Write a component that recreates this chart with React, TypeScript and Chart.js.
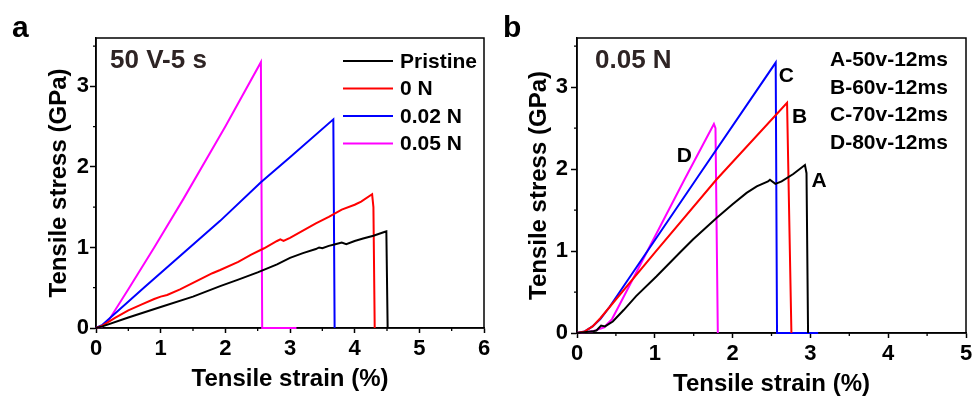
import React, { useEffect, useRef } from 'react';
import { Chart, registerables } from 'chart.js';

Chart.register(...registerables);

const FONT = '"Liberation Sans", Arial, Helvetica, sans-serif';

// ---------------- Panel a data ----------------
const aXTicks = [0, 1, 2, 3, 4, 5, 6];
const aYTicks = [0, 1, 2, 3];
const aSeriesLabels = ['Pristine', '0 N', '0.02 N', '0.05 N'];

const pristineX = [0, 0.1, 0.5, 1.0, 1.5, 1.92, 2.2, 2.5, 2.8, 3.0, 3.2, 3.4, 3.45, 3.5, 3.6, 3.7, 3.8, 3.87, 4.0, 4.13, 4.29, 4.47, 4.49, 4.51];
const pristineY = [0, 0.02, 0.13, 0.26, 0.39, 0.52, 0.6, 0.69, 0.79, 0.87, 0.93, 0.98, 1.0, 0.99, 1.02, 1.04, 1.06, 1.04, 1.08, 1.11, 1.145, 1.195, 1.2, 0];

const n0X = [0, 0.1, 0.3, 0.5, 0.7, 0.9, 1.0, 1.1, 1.3, 1.5, 1.7, 1.8, 1.92, 2.2, 2.4, 2.6, 2.8, 2.85, 2.9, 3.0, 3.2, 3.4, 3.6, 3.8, 4.0, 4.1, 4.27, 4.29, 4.31];
const n0Y = [0, 0.03, 0.13, 0.22, 0.29, 0.36, 0.39, 0.41, 0.48, 0.56, 0.64, 0.68, 0.72, 0.82, 0.91, 0.99, 1.08, 1.1, 1.08, 1.12, 1.21, 1.3, 1.38, 1.47, 1.53, 1.57, 1.66, 1.5, 0];

const n002X = [0, 0.1, 0.74, 1.92, 2.55, 3.0, 3.67, 3.69];
const n002Y = [0, 0.04, 0.5, 1.33, 1.81, 2.12, 2.59, 0];

const n005X = [0, 0.1, 0.2, 0.5, 0.9, 1.35, 2.0, 2.55, 2.57, 3.1];
const n005Y = [0, 0.02, 0.1, 0.48, 1.0, 1.6, 2.5, 3.3, 0, 0];

// ---------------- Panel b data ----------------
const bXTicks = [0, 1, 2, 3, 4, 5];
const bYTicks = [0, 1, 2, 3];
const bLegendLines = ['A-50v-12ms', 'B-60v-12ms', 'C-70v-12ms', 'D-80v-12ms'];
const bCurveLetters = ['A', 'B', 'C', 'D'];

const curveAX = [0, 0.1, 0.2, 0.25, 0.31, 0.36, 0.46, 0.6, 0.76, 1.02, 1.32, 1.49, 1.79, 2.0, 2.18, 2.31, 2.455, 2.48, 2.55, 2.63, 2.78, 2.93, 2.95, 2.97];
const curveAY = [0, 0.01, 0.02, 0.03, 0.09, 0.08, 0.14, 0.28, 0.45, 0.69, 0.98, 1.14, 1.4, 1.57, 1.71, 1.79, 1.85, 1.87, 1.82, 1.85, 1.94, 2.05, 1.95, 0];

const curveBX = [0, 0.1, 0.2, 0.3, 1.0, 1.79, 2.7, 2.756];
const curveBY = [0, 0.02, 0.08, 0.18, 0.98, 1.87, 2.81, 0];

const curveCX = [0, 0.1, 0.2, 0.3, 0.42, 1.556, 2.554, 2.571, 3.1];
const curveCY = [0, 0.02, 0.08, 0.17, 0.32, 1.91, 3.3, 0, 0];

const curveDX = [0, 0.2, 0.35, 0.45, 0.55, 0.85, 1.38, 1.76, 1.78, 1.81];
const curveDY = [0, 0.02, 0.07, 0.17, 0.35, 0.9, 1.87, 2.55, 2.5, 0];

const BLACK = '#000000';
const RED = '#ff0000';
const BLUE = '#0000ff';
const MAGENTA = '#ff00ff';

function pts(xs: number[], ys: number[]) {
  return xs.map((x, i) => ({ x, y: ys[i] }));
}

type Series = { label: string; x: number[]; y: number[]; color: string };

type PanelSpec = {
  series: Series[];
  xMax: number;
  yMax: number;
  xTicks: number[];
  yTicks: number[];
  padTop: number;
  padRight: number;
  yAxisW: number;
  xAxisH: number;
  yTickPad: number;
  yTitlePad: number;
  xTitlePad: number;
  letter: string;
  letterX: number;
  annotation: string;
  annotationX: number;
  drawExtras: (chart: any, ctx: CanvasRenderingContext2D) => void;
};

function makeDecor(p: PanelSpec) {
  return {
    id: 'decor',
    beforeDatasetsDraw(chart: any) {
      const { ctx, chartArea: ca, scales } = chart;
      const xs = scales.x;
      const ys = scales.y;
      ctx.save();
      ctx.strokeStyle = '#000';
      ctx.lineWidth = 1.5;
      ctx.strokeRect(ca.left, ca.top, ca.right - ca.left, ca.bottom - ca.top);
      ctx.lineWidth = 1.3;
      ctx.beginPath();
      for (let v = 0.5; v < xs.max; v += 1) {
        const px = xs.getPixelForValue(v);
        ctx.moveTo(px, ca.bottom);
        ctx.lineTo(px, ca.bottom + 3);
      }
      for (let v = 0.5; v < ys.max; v += 1) {
        const py = ys.getPixelForValue(v);
        ctx.moveTo(ca.left, py);
        ctx.lineTo(ca.left - 3, py);
      }
      ctx.stroke();
      ctx.restore();
    },
    afterDraw(chart: any) {
      const ctx: CanvasRenderingContext2D = chart.ctx;
      ctx.save();
      ctx.textAlign = 'left';
      ctx.textBaseline = 'alphabetic';
      ctx.fillStyle = '#000';
      ctx.font = `bold 30px ${FONT}`;
      ctx.fillText(p.letter, p.letterX, 37);
      ctx.fillStyle = '#2e2424';
      ctx.font = `bold 26px ${FONT}`;
      ctx.fillText(p.annotation, p.annotationX, 68);
      p.drawExtras(chart, ctx);
      ctx.restore();
    },
  };
}

function buildConfig(p: PanelSpec): any {
  const tickFont = { family: FONT, size: 22, weight: 'bold' as const };
  const titleFont = { family: FONT, size: 24, weight: 'bold' as const, lineHeight: 1 };
  return {
    type: 'scatter',
    data: {
      datasets: p.series.map((s) => ({
        label: s.label,
        data: pts(s.x, s.y),
        showLine: true,
        borderColor: s.color,
        backgroundColor: s.color,
        borderWidth: 2,
        pointRadius: 0,
        pointHoverRadius: 0,
        tension: 0,
        fill: false,
        clip: false,
      })),
    },
    options: {
      responsive: false,
      animation: false,
      events: [],
      layout: { padding: { left: 0, top: p.padTop, right: p.padRight, bottom: 0 } },
      plugins: {
        legend: { display: false },
        tooltip: { enabled: false },
      },
      scales: {
        x: {
          type: 'linear',
          min: 0,
          max: p.xMax,
          afterBuildTicks: (s: any) => {
            s.ticks = p.xTicks.map((v) => ({ value: v }));
          },
          afterFit: (s: any) => {
            s.height = p.xAxisH;
            s.paddingLeft = 0;
            s.paddingRight = 0;
          },
          ticks: { font: tickFont, color: '#000', padding: 3, maxRotation: 0, autoSkip: false },
          grid: { drawOnChartArea: false, drawTicks: true, tickLength: 5, tickColor: '#000', tickWidth: 1.5 },
          border: { display: true, color: '#000', width: 1.5 },
          title: {
            display: true,
            text: 'Tensile strain (%)',
            font: titleFont,
            color: '#000',
            padding: { top: 0, bottom: p.xTitlePad },
          },
        },
        y: {
          type: 'linear',
          min: 0,
          max: p.yMax,
          afterBuildTicks: (s: any) => {
            s.ticks = p.yTicks.map((v) => ({ value: v }));
          },
          afterFit: (s: any) => {
            s.width = p.yAxisW;
            s.paddingTop = 0;
            s.paddingBottom = 0;
          },
          ticks: { font: tickFont, color: '#000', padding: p.yTickPad, autoSkip: false },
          grid: { drawOnChartArea: false, drawTicks: true, tickLength: 6, tickColor: '#000', tickWidth: 1.5 },
          border: { display: true, color: '#000', width: 1.5 },
          title: {
            display: true,
            text: 'Tensile stress (GPa)',
            font: titleFont,
            color: '#000',
            padding: { top: p.yTitlePad, bottom: 0 },
          },
        },
      },
    },
    plugins: [makeDecor(p)],
  };
}

const panelA: PanelSpec = {
  series: [
    { label: aSeriesLabels[0], x: pristineX, y: pristineY, color: BLACK },
    { label: aSeriesLabels[1], x: n0X, y: n0Y, color: RED },
    { label: aSeriesLabels[2], x: n002X, y: n002Y, color: BLUE },
    { label: aSeriesLabels[3], x: n005X, y: n005Y, color: MAGENTA },
  ],
  xMax: 6,
  yMax: 3.6,
  xTicks: aXTicks,
  yTicks: aYTicks,
  padTop: 38,
  padRight: 16,
  yAxisW: 96,
  xAxisH: 68,
  yTickPad: 1,
  yTitlePad: 47,
  xTitlePad: 5,
  letter: 'a',
  letterX: 12,
  annotation: '50 V-5 s',
  annotationX: 110,
  drawExtras: (chart, ctx) => {
    const rows = [61, 88.5, 116, 143.5];
    ctx.font = `bold 21px ${FONT}`;
    ctx.textBaseline = 'middle';
    ctx.textAlign = 'left';
    chart.data.datasets.forEach((ds: any, i: number) => {
      ctx.strokeStyle = ds.borderColor;
      ctx.lineWidth = 2;
      ctx.beginPath();
      ctx.moveTo(343, rows[i]);
      ctx.lineTo(393, rows[i]);
      ctx.stroke();
      ctx.fillStyle = '#000';
      ctx.fillText(ds.label, 400, rows[i] + 1);
    });
  },
};

const bLetterPos: Record<string, [number, number]> = {
  A: [3.11, 1.87],
  B: [2.86, 2.64],
  C: [2.69, 3.15],
  D: [1.38, 2.17],
};

const panelB: PanelSpec = {
  series: [
    { label: bCurveLetters[0], x: curveAX, y: curveAY, color: BLACK },
    { label: bCurveLetters[1], x: curveBX, y: curveBY, color: RED },
    { label: bCurveLetters[2], x: curveCX, y: curveCY, color: BLUE },
    { label: bCurveLetters[3], x: curveDX, y: curveDY, color: MAGENTA },
  ],
  xMax: 5,
  yMax: 3.6,
  xTicks: bXTicks,
  yTicks: bYTicks,
  padTop: 38,
  padRight: 9,
  yAxisW: 90,
  xAxisH: 63,
  yTickPad: 3,
  yTitlePad: 40,
  xTitlePad: 0,
  letter: 'b',
  letterX: 16,
  annotation: '0.05 N',
  annotationX: 108,
  drawExtras: (chart, ctx) => {
    const rows = [59.5, 87, 114.3, 141.8];
    ctx.font = `bold 21px ${FONT}`;
    ctx.textBaseline = 'middle';
    ctx.textAlign = 'left';
    ctx.fillStyle = '#000';
    bLegendLines.forEach((t, i) => ctx.fillText(t, 343, rows[i] + 1));
    ctx.textAlign = 'center';
    const xs = chart.scales.x;
    const ys = chart.scales.y;
    bCurveLetters.forEach((l) => {
      const [vx, vy] = bLetterPos[l];
      ctx.fillText(l, xs.getPixelForValue(vx), ys.getPixelForValue(vy) + 1);
    });
  },
};

function Panel({ spec, left, width }: { spec: PanelSpec; left: number; width: number }) {
  const ref = useRef<HTMLCanvasElement>(null);
  useEffect(() => {
    const chart = new Chart(ref.current as HTMLCanvasElement, buildConfig(spec));
    return () => chart.destroy();
  }, [spec]);
  return (
    <canvas
      ref={ref}
      width={width}
      height={396}
      style={{ position: 'absolute', left, top: 0, width, height: 396, display: 'block' }}
    />
  );
}

export default function App() {
  return (
    <div
      style={{
        position: 'fixed',
        left: 0,
        top: 0,
        width: 975,
        height: 396,
        background: '#ffffff',
        overflow: 'hidden',
      }}
    >
      <Panel spec={panelA} left={0} width={500} />
      <Panel spec={panelB} left={487} width={488} />
    </div>
  );
}
